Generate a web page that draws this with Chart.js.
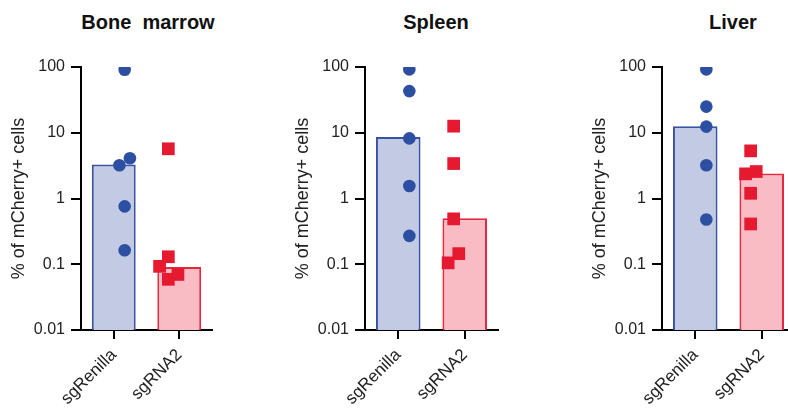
<!DOCTYPE html>
<html>
<head>
<meta charset="utf-8">
<script src="https://cdn.jsdelivr.net/npm/chart.js@4/dist/chart.umd.min.js"></script>
<style>
  html, body { margin: 0; padding: 0; background: #fff; overflow: hidden; }
  body { width: 788px; height: 409px; position: relative; font-family: "Liberation Sans", Arial, sans-serif; }
  canvas { position: absolute; top: 0; }
  .titulo { position: absolute; top: 12px; font-size: 20px; line-height: 20px; font-weight: bold; color: #111; white-space: pre; transform: translateX(-50%); }
</style>
</head>
<body>
<div class="titulo" style="left:148px">Bone  marrow</div>
<div class="titulo" style="left:436px">Spleen</div>
<div class="titulo" style="left:733px">Liver</div>
<canvas id="grafBone" width="221" height="409" style="left:0px"></canvas>
<canvas id="grafSpleen" width="223" height="409" style="left:284px"></canvas>
<canvas id="grafLiver" width="223" height="409" style="left:581px"></canvas>
<script>
// Datos (% de celulas mCherry+)
const categorias = ['sgRenilla', 'sgRNA2'];
const ticksY = [0.01, 0.1, 1, 10, 100];

// Medula osea
const boneMedias = [3.3, 0.091];
const boneRenilla = [91, 4.1, 3.2, 0.76, 0.163];
const boneRenillaJit = [0, 0.12, -0.12, 0, 0];
const boneRna2 = [5.7, 0.13, 0.093, 0.059, 0.07];
const boneRna2Jit = [0, 0, -0.2, 0, 0.22];

// Bazo
const spleenMedias = [8.6, 0.5];
const spleenRenilla = [92, 43, 8.2, 1.55, 0.27];
const spleenRenillaJit = [0, 0, 0, 0, 0];
const spleenRna2 = [12.6, 3.4, 0.49, 0.105, 0.145];
const spleenRna2Jit = [0, 0, 0, -0.125, 0.115];

// Higado
const liverMedias = [12.6, 2.4];
const liverRenilla = [92, 25, 12.4, 3.2, 0.48];
const liverRenillaJit = [0, 0, 0, 0, 0];
const liverRna2 = [5.3, 2.37, 2.57, 1.2, 0.41];
const liverRna2Jit = [0, -0.115, 0.125, 0, 0];

const azulRelleno = '#c2cae4', azulBorde = '#3953a4', azulPunto = '#2d4fa2';
const rojoRelleno = '#f9bcc5', rojoBorde = '#e3283f', rojoPunto = '#e5192f';

function puntos(valores, jit, idx) {
  return valores.map((v, i) => ({ x: idx + jit[i], y: v }));
}

function crearPanel(id, medias, renilla, renillaJit, rna2, rna2Jit, anchoPlot) {
  new Chart(document.getElementById(id), {
    type: 'bar',
    data: {
      labels: categorias,
      datasets: [
        { type: 'scatter', xAxisID: 'xs', data: puntos(renilla, renillaJit, 0),
          pointStyle: 'circle', pointRadius: 6.3, pointBackgroundColor: azulPunto, pointBorderWidth: 0 },
        { type: 'scatter', xAxisID: 'xs', data: puntos(rna2, rna2Jit, 1),
          pointStyle: 'rect', pointRadius: 9, pointBackgroundColor: rojoPunto, pointBorderWidth: 0 },
        { type: 'bar', xAxisID: 'x', data: medias, grouped: false,
          backgroundColor: [azulRelleno, rojoRelleno], borderColor: [azulBorde, rojoBorde],
          borderWidth: 2, categoryPercentage: 1, barPercentage: 0.67 }
      ]
    },
    options: {
      responsive: false,
      animation: false,
      events: [],
      layout: { padding: { top: 67, right: 221 - 81 - anchoPlot, bottom: 0, left: 0 } },
      plugins: { legend: { display: false }, tooltip: { enabled: false } },
      scales: {
        x: {
          type: 'category',
          offset: true,
          border: { color: '#000', width: 2 },
          grid: { offset: false, drawOnChartArea: false, color: '#000', lineWidth: 2, tickLength: 9 },
          ticks: { color: '#222', font: { family: 'Liberation Sans', size: 17 }, minRotation: 45, maxRotation: 45,
                   padding: 6 },
          afterFit: s => { s.height = 79; }
        },
        xs: { type: 'linear', display: false, min: -0.5, max: 1.5 },
        y: {
          type: 'logarithmic',
          min: 0.01, max: 100,
          border: { color: '#000', width: 2 },
          grid: { drawOnChartArea: false, color: '#000', lineWidth: 2, tickLength: 10 },
          ticks: { color: '#222', font: { family: 'Liberation Sans', size: 16 }, padding: 6,
                   callback: v => String(v) },
          afterBuildTicks: s => { s.ticks = ticksY.map(v => ({ value: v })); },
          afterFit: s => { s.width = 81; },
          title: { display: true, text: '% of mCherry+ cells', color: '#222',
                   font: { family: 'Liberation Sans', size: 18 }, padding: { top: 8, bottom: 0 } }
        }
      }
    }
  });
}

crearPanel('grafBone', boneMedias, boneRenilla, boneRenillaJit, boneRna2, boneRna2Jit, 132);
crearPanel('grafSpleen', spleenMedias, spleenRenilla, spleenRenillaJit, spleenRna2, spleenRna2Jit, 134);
crearPanel('grafLiver', liverMedias, liverRenilla, liverRenillaJit, liverRna2, liverRna2Jit, 134);
</script>
</body>
</html>
